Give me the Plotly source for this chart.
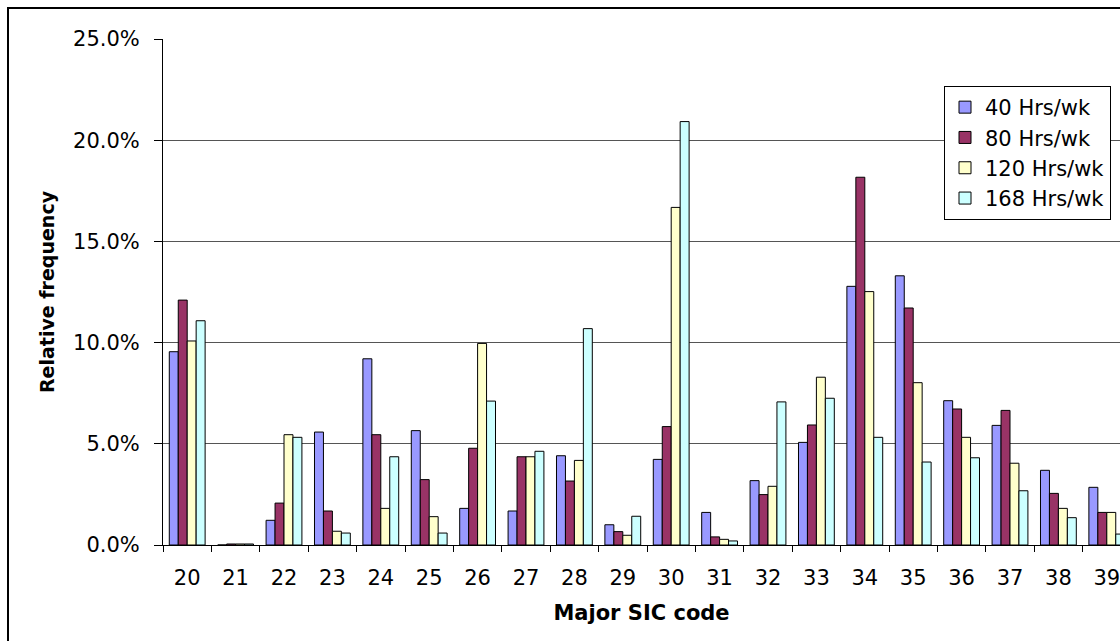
import plotly.graph_objects as go

categories = [str(c) for c in range(20, 40)]
series_names = ["40 Hrs/wk", "80 Hrs/wk", "120 Hrs/wk", "168 Hrs/wk"]
hrs_40 = [9.55, 0.0, 1.22, 5.58, 9.2, 5.65, 1.81, 1.68, 4.41, 1.0, 4.23, 1.61, 3.18, 5.07, 12.78, 13.3, 7.13, 5.91, 3.69, 2.85]
hrs_80 = [12.1, 0.05, 2.07, 1.68, 5.45, 3.23, 4.78, 4.36, 3.16, 0.66, 5.85, 0.40, 2.49, 5.93, 18.17, 11.71, 6.72, 6.65, 2.55, 1.61]
hrs_120 = [10.08, 0.05, 5.45, 0.68, 1.81, 1.4, 9.96, 4.36, 4.18, 0.48, 16.68, 0.28, 2.9, 8.29, 12.52, 8.02, 5.32, 4.04, 1.81, 1.61]
hrs_168 = [11.08, 0.05, 5.32, 0.59, 4.36, 0.59, 7.11, 4.63, 10.69, 1.42, 20.92, 0.2, 7.07, 7.25, 5.32, 4.1, 4.31, 2.68, 1.35, 0.54]
colors = ["#9999FF", "#993366", "#FFFFCC", "#CCFFFF"]

FONT = "DejaVu Sans"

fig = go.Figure()
for name, vals, col in zip(series_names, [hrs_40, hrs_80, hrs_120, hrs_168], colors):
    fig.add_trace(go.Bar(
        x=categories, y=[v / 100 for v in vals], name=name,
        marker=dict(color=col, line=dict(color="black", width=1)),
    ))

W, H = 1120, 641
L, T = 163, 39
B = H - 545
plot_w = W - L
plot_h = H - T - B
cat_w = 48.4
x_max = -0.5 + plot_w / cat_w

fig.update_layout(
    width=W, height=H,
    margin=dict(l=L, r=0, t=T, b=B, pad=0),
    paper_bgcolor="white", plot_bgcolor="white",
    barmode="group", bargap=0.26, bargroupgap=0,
    font=dict(family=FONT, size=21, color="black"),
    showlegend=True,
    legend=dict(
        x=(944 - L) / plot_w, y=(545 - 86) / plot_h, xanchor="left", yanchor="top",
        bgcolor="white", bordercolor="black", borderwidth=1,
        font=dict(family=FONT, size=21, color="black"),
        traceorder="normal",
    ),
    xaxis=dict(
        type="category", range=[-0.5, x_max],
        showline=True, linecolor="black", linewidth=1,
        ticks="outside", ticklen=6, tickcolor="black", tickson="boundaries",
        showgrid=False, ticklabelstandoff=14,
        title=dict(text="<b>Major SIC code</b>", font=dict(family=FONT, size=21), standoff=16),
    ),
    yaxis=dict(
        range=[0, 0.25], dtick=0.05, tickformat=".1%",
        showline=True, linecolor="black", linewidth=1,
        ticks="outside", ticklen=8, tickcolor="black",
        showgrid=True, gridcolor="#555555", gridwidth=1,
        zeroline=False, ticklabelstandoff=10,
        title=dict(text="<b>Relative frequency</b>", font=dict(family=FONT, size=19), standoff=13),
    ),
    shapes=[dict(
        type="rect", xref="paper", yref="paper",
        x0=(8 - L) / plot_w, x1=1.2, y0=-0.5, y1=(545 - 8) / plot_h,
        line=dict(color="black", width=2), fillcolor="rgba(0,0,0,0)", layer="above",
    )],
)

fig.write_html(
    "out.html",
    config={"displayModeBar": False},
    post_script="document.body.style.margin='0px';document.body.style.overflow='hidden';",
)
